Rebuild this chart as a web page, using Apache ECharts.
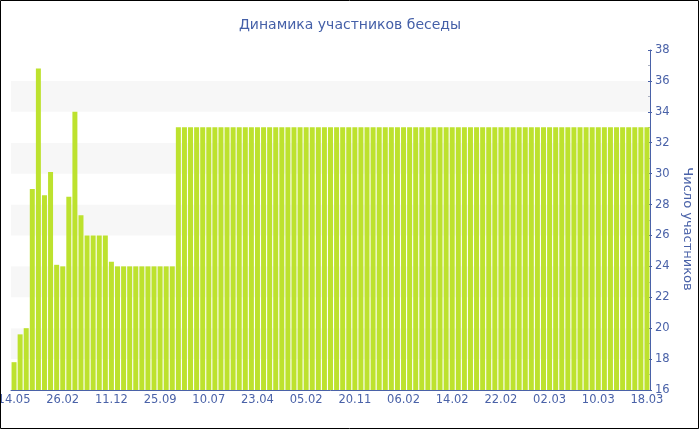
<!DOCTYPE html>
<html>
<head>
<meta charset="utf-8">
<script src="https://cdn.jsdelivr.net/npm/echarts@6/dist/echarts.min.js"></script>
<style>
html,body{margin:0;padding:0;background:#fff;}
#c{width:700px;height:430px;}
</style>
</head>
<body>
<div id="c"></div>
<script>
const titleText = 'Динамика участников беседы';
const yAxisName = 'Число участников';

const categories = [
  '14.05','19.06','25.07','30.08','05.10','10.11','16.12','21.01',
  '26.02','03.04','09.05','14.06','20.07','25.08','30.09','05.11',
  '11.12','16.01','21.02','29.03','04.05','09.06','15.07','20.08',
  '25.09','31.10','06.12','11.01','16.02','24.03','29.04','04.06',
  '10.07','15.08','20.09','26.10','01.12','06.01','11.02','18.03',
  '23.04','29.05','04.07','09.08','14.09','20.10','25.11','31.12',
  '05.02','13.03','18.04','24.05','29.06','04.08','09.09','15.10',
  '20.11','26.12','31.01','01.02','02.02','03.02','04.02','05.02',
  '06.02','07.02','08.02','09.02','10.02','11.02','12.02','13.02',
  '14.02','15.02','16.02','17.02','18.02','19.02','20.02','21.02',
  '22.02','23.02','24.02','25.02','26.02','27.02','28.02','01.03',
  '02.03','03.03','04.03','05.03','06.03','07.03','08.03','09.03',
  '10.03','11.03','12.03','13.03','14.03','15.03','16.03','17.03',
  '18.03'
];

const participants = [
  17.8, 19.6, 20.0, 29.0, 36.8, 28.6, 30.1, 24.1,
  24.0, 28.5, 34.0, 27.3, 26.0, 26.0, 26.0, 26.0,
  24.3, 24.0, 24.0, 24.0, 24.0, 24.0, 24.0, 24.0,
  24.0, 24.0, 24.0, 33, 33, 33, 33, 33,
  33, 33, 33, 33, 33, 33, 33, 33,
  33, 33, 33, 33, 33, 33, 33, 33,
  33, 33, 33, 33, 33, 33, 33, 33,
  33, 33, 33, 33, 33, 33, 33, 33,
  33, 33, 33, 33, 33, 33, 33, 33,
  33, 33, 33, 33, 33, 33, 33, 33,
  33, 33, 33, 33, 33, 33, 33, 33,
  33, 33, 33, 33, 33, 33, 33, 33,
  33, 33, 33, 33, 33, 33, 33, 33,
  33
];

const yMin = 16;
const yMax = 38;
const yStep = 2;

const blue = '#4a62a8';
const font = 'DejaVu Sans, Verdana, sans-serif';

const chart = echarts.init(document.getElementById('c'), null, {renderer: 'canvas'});
chart.setOption({
  animation: false,
  backgroundColor: '#ffffff',
  title: {
    text: titleText,
    left: 'center',
    top: 13,
    textStyle: {color: '#4560a8', fontFamily: font, fontSize: 14, fontWeight: 'normal'}
  },
  grid: {left: 11, right: 50, top: 50, bottom: 40, outerBoundsMode: 'none', containLabel: false},
  xAxis: {
    type: 'category',
    data: categories,
    boundaryGap: true,
    axisLine: {lineStyle: {color: blue, width: 1}},
    axisTick: {alignWithLabel: true, interval: 7, length: 3, lineStyle: {color: blue}},
    axisLabel: {interval: 7, color: blue, fontFamily: font, fontSize: 11.5, margin: 4},
    splitLine: {show: false}
  },
  yAxis: [
    {
      type: 'value',
      position: 'right',
      min: yMin, max: yMax, interval: yStep,
      name: yAxisName,
      nameLocation: 'middle',
      nameRotate: -90,
      nameGap: 30,
      nameTextStyle: {color: blue, fontFamily: font, fontSize: 13, padding: [8, 0, 0, 18]},
      axisLine: {show: true, lineStyle: {color: blue}},
      axisTick: {show: true, length: 2, lineStyle: {color: blue}},
      axisLabel: {color: blue, fontFamily: font, fontSize: 11.5, margin: 5},
      splitLine: {show: false},
      splitArea: {show: true, areaStyle: {color: ['#ffffff', '#f7f7f7']}}
    },
    {
      type: 'value',
      position: 'right',
      min: yMin, max: yMax, interval: yStep,
      axisLine: {show: false},
      axisTick: {show: true, inside: true, length: 2, lineStyle: {color: blue}},
      minorTick: {show: true, splitNumber: 2, length: 2, lineStyle: {color: '#aab0c0'}},
      axisLabel: {show: false},
      splitLine: {show: false},
      splitArea: {show: false}
    }
  ],
  series: [{
    type: 'bar',
    data: participants,
    yAxisIndex: 0,
    barCategoryGap: '18%',
    itemStyle: {color: '#bde22e'}
  }],
  graphic: [{
    type: 'rect',
    shape: {x: 0.5, y: 0.5, width: 698, height: 428},
    style: {fill: 'none', stroke: '#000000', lineWidth: 1},
    silent: true,
    z: 100
  }]
});
</script>
</body>
</html>
